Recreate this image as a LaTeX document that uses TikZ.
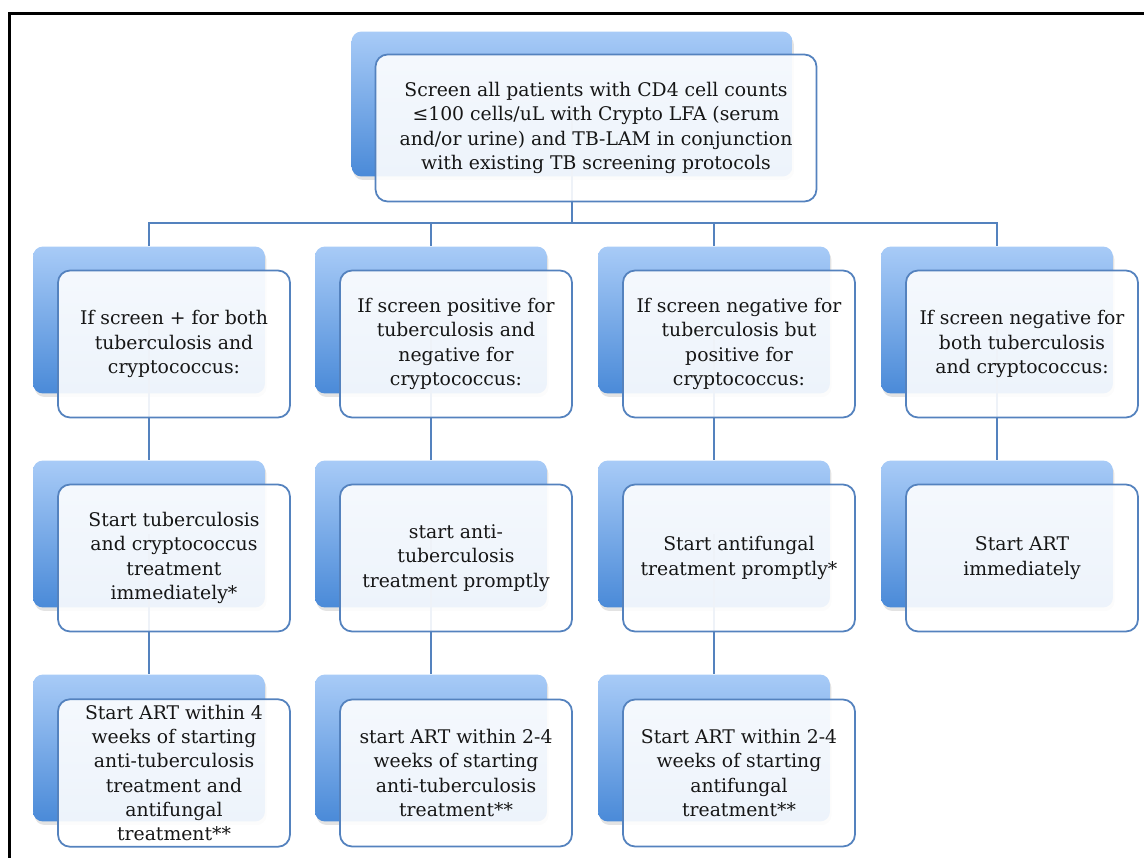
\documentclass[tikz,border=0pt]{standalone}
\usepackage{fontspec}
\setmainfont{DejaVu Serif}
\usepackage{tikz}
\usetikzlibrary{shadows}
\definecolor{BoxLine}{RGB}{84,130,190}
\definecolor{BackTop}{RGB}{168,203,247}
\definecolor{BackBot}{RGB}{74,138,216}
\definecolor{TextGray}{RGB}{22,22,22}

\begin{document}
\begin{tikzpicture}[x=0.02cm,y=-0.02cm,
  bgbox/.style={rounded corners=0.2cm,top color=BackTop,bottom color=BackBot,
                minimum width=4.64cm,minimum height=2.94cm,
                drop shadow={shadow xshift=0.03cm,shadow yshift=-0.07cm,opacity=0.22}},
  frbox/.style={draw=BoxLine,line width=1pt,rounded corners=0.24cm,fill=white,
                fill opacity=0.9,text opacity=1,text=TextGray,
                minimum width=4.64cm,minimum height=2.94cm,align=center,
                font=\fontsize{10.7}{13.8}\selectfont},
  conn/.style={draw=BoxLine,line width=1pt},
]
\useasboundingbox (0,0) rectangle (1144,858);
% frame
\draw[line width=1.6pt] (9.5,858) -- (9.5,13.5) -- (1144,13.5);
% back boxes
\node[bgbox,minimum width=8.82cm,minimum height=2.9cm] (screenbg) at (572,104) {};
\node[bgbox] (bothbg)   at (149,320) {};
\node[bgbox] (tbposbg)  at (431,320) {};
\node[bgbox] (crposbg)  at (714,320) {};
\node[bgbox] (negbg)    at (997,320) {};
\node[bgbox] (bothtxbg) at (149,534) {};
\node[bgbox] (tbtxbg)   at (431,534) {};
\node[bgbox] (crtxbg)   at (714,534) {};
\node[bgbox] (negartbg) at (997,534) {};
\node[bgbox] (bothartbg) at (149,748) {};
\node[bgbox] (tbartbg)   at (431,748) {};
\node[bgbox] (crartbg)   at (714,748) {};
% connectors
\coordinate (bus) at (572,223);
\draw[conn] (screenbg.center) -- (bus);
\draw[conn] (bothbg.north) |- (bus) -| (negbg.north);
\draw[conn] (tbposbg.north) -- (tbposbg.north |- bus);
\draw[conn] (crposbg.north) -- (crposbg.north |- bus);
\draw[conn] (bothbg.center) -- (bothtxbg.north);
\draw[conn] (tbposbg.center) -- (tbtxbg.north);
\draw[conn] (crposbg.center) -- (crtxbg.north);
\draw[conn] (negbg.center) -- (negartbg.north);
\draw[conn] (bothtxbg.center) -- (bothartbg.north);
\draw[conn] (tbtxbg.center) -- (tbartbg.north);
\draw[conn] (crtxbg.center) -- (crartbg.north);
% front boxes
\node[frbox,minimum width=8.82cm] (screen) at (596,128)
  {Screen all patients with CD4 cell counts\\≤100 cells/uL with Crypto LFA (serum\\and/or urine) and TB-LAM in conjunction\\with existing TB screening protocols};
\node[frbox] (both) at (174,344) {If screen + for both\\tuberculosis and\\cryptococcus:};
\node[frbox] (tbpos) at (456,344) {If screen positive for\\tuberculosis and\\negative for\\cryptococcus:};
\node[frbox] (crpos) at (739,344) {If screen negative for\\tuberculosis but\\positive for\\cryptococcus:};
\node[frbox] (neg) at (1022,344) {If screen negative for\\both tuberculosis\\and cryptococcus:};
\node[frbox] (bothtx) at (174,558) {Start tuberculosis\\and cryptococcus\\treatment\\immediately*};
\node[frbox] (tbtx) at (456,558) {start anti-\\tuberculosis\\treatment promptly};
\node[frbox] (crtx) at (739,558) {Start antifungal\\treatment promptly*};
\node[frbox] (negart) at (1022,558) {Start ART\\immediately};
\node[frbox] (bothart) at (174,773) {Start ART within 4\\weeks of starting\\anti-tuberculosis\\treatment and\\antifungal\\treatment**};
\node[frbox] (tbart) at (456,773) {start ART within 2-4\\weeks of starting\\anti-tuberculosis\\treatment**};
\node[frbox] (crart) at (739,773) {Start ART within 2-4\\weeks of starting\\antifungal\\treatment**};
\end{tikzpicture}
\end{document}
